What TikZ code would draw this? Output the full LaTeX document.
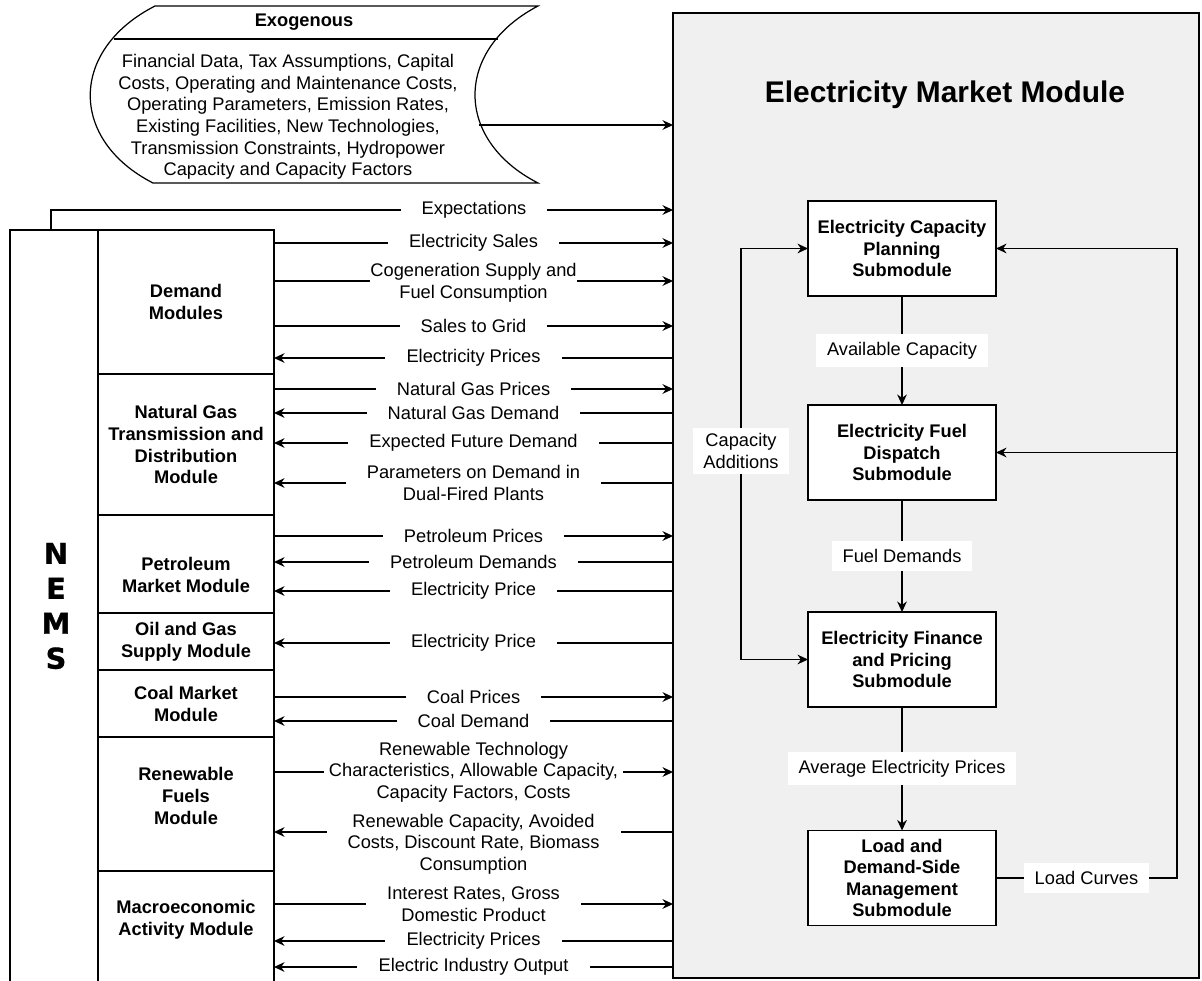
\documentclass[tikz,border=0pt]{standalone}
\usepackage{fontspec}
\setmainfont{Liberation Sans}
\newfontfamily\nemsfont[BoldFeatures={FakeBold=1.2}]{DejaVu Sans}
\usetikzlibrary{arrows.meta}
\definecolor{emmgray}{HTML}{F0F0F0}

\begin{document}
\begin{tikzpicture}[x=0.02cm, y=-0.02cm,
        >={Stealth[length=6pt, width=5.5pt]},
        txt/.style={font=\fontsize{10.4}{12.3}\selectfont, align=center},
        flow/.style={line width=0.7pt},
        lbl/.style={txt, fill=white, inner xsep=12pt, inner ysep=1pt},
        tag/.style={txt, fill=white, inner xsep=6pt, inner ysep=4.5pt},
        modlbl/.style={align=center, inner sep=0pt, font=\bfseries\fontsize{10.4}{12.5}\selectfont},
        mod/.style={draw, line width=0.7pt, fill=white, minimum width=3.52cm, inner sep=0pt, outer sep=0pt, modlbl},
        sub/.style={draw, line width=0.7pt, fill=white, minimum width=3.76cm, minimum height=1.9cm, inner sep=0pt, outer sep=0pt, align=center, font=\bfseries\fontsize{10.4}{12.3}\selectfont}]

            \useasboundingbox (0,0) rectangle (1202,980);
            \clip (0,0) rectangle (1202,980);

            % Exogenous inputs
            \draw[flow] (155,6) -- (538,6) .. controls (454,50) and (454,140) .. (538,183) -- (153,183) .. controls (69,140) and (69,50) .. (155,6) -- cycle;
            \draw[flow] (114,39) -- (498,39);
            \node[txt, font=\bfseries\fontsize{10.4}{12.3}\selectfont] (exotitle) at (304,22) {Exogenous};
            \node[txt] (exo) at (288,117) {Financial Data, Tax Assumptions, Capital\\Costs, Operating and Maintenance Costs,\\Operating Parameters, Emission Rates,\\Existing Facilities, New Technologies,\\Transmission Constraints, Hydropower\\Capacity and Capacity Factors};
            \coordinate (exo-out) at (479,125);

            % Electricity Market Module
            \node[draw, line width=0.7pt, fill=emmgray, minimum width=10.52cm, minimum height=19.3cm, inner sep=0pt, outer sep=0pt] (emm) at (936,495.5) {};
            \node[font=\bfseries\fontsize{17}{20}\selectfont] (emmtitle) at (945,95) {Electricity Market Module};

            \node[sub] (ecp) at (902,248.5) {Electricity Capacity\\Planning\\Submodule};
            \node[sub] (efd) at (902,452.5) {Electricity Fuel\\Dispatch\\Submodule};
            \node[sub] (efp) at (902,659.5) {Electricity Finance\\and Pricing\\Submodule};
            \node[sub] (ldsm) at (902,878) {Load and\\Demand-Side\\Management\\Submodule};
            \node[tag, inner ysep=3pt] (capadd) at (741,451) {Capacity\\Additions};
            \coordinate (rbus) at (1177,0);

            % NEMS modules
            \node[draw, line width=0.7pt, minimum width=5.28cm, minimum height=15.4cm, inner sep=0pt, outer sep=0pt] (nems) at (142,615) {};
            \node[font=\nemsfont\bfseries\fontsize{16.3}{19.9}\selectfont, align=center] (nemsname) at (56,606) {N\\E\\M\\S};

            \node[mod, minimum height=2.88cm] (dem) at (186,302) {Demand\\Modules};
            \node[mod, minimum height=2.82cm] (ngtdm) at (186,444.5) {Natural Gas\\Transmission and\\Distribution\\Module};
            \node[mod, minimum height=1.96cm, label={[modlbl, yshift=-0.22cm]center:{Petroleum\\Market Module}}] (pmm) at (186,564) {};
            \node[mod, minimum height=1.14cm] (ogsm) at (186,641.5) {Oil and Gas\\Supply Module};
            \node[mod, minimum height=1.34cm] (cmm) at (186,703.5) {Coal Market\\Module};
            \node[mod, minimum height=2.68cm, label={[modlbl, yshift=0.16cm]center:{Renewable\\Fuels\\Module}}] (rfm) at (186,804) {};
            \node[mod, minimum height=2.58cm, label={[modlbl, yshift=0.31cm]center:{Macroeconomic\\Activity Module}}] (mam) at (186,935.5) {};

            % Arrows into the module
            \draw[flow, ->] (exo-out) -- (exo-out -| emm.west);
            \draw[flow, ->] (nems.north -| 51,0) |- node[lbl, pos=0.84] {Expectations} (emm.west |- 0,210);

            \draw[flow, ->] (dem.east |- 0,243) -- node[lbl] {Electricity Sales} (emm.west |- 0,243);
            \draw[flow, ->] (dem.east |- 0,281) -- node[lbl, inner xsep=0pt, yshift=-0.04cm] {Cogeneration Supply and\\Fuel Consumption} (emm.west |- 0,281);
            \draw[flow, ->] (dem.east |- 0,326) -- node[lbl] {Sales to Grid} (emm.west |- 0,326);
            \draw[flow, <-] (dem.east |- 0,358) -- node[lbl] {Electricity Prices} (emm.west |- 0,358);

            \draw[flow, ->] (ngtdm.east |- 0,389) -- node[lbl] {Natural Gas Prices} (emm.west |- 0,389);
            \draw[flow, <-] (ngtdm.east |- 0,413) -- node[lbl] {Natural Gas Demand} (emm.west |- 0,413);
            \draw[flow, <-] (ngtdm.east |- 0,443) -- node[lbl] {Expected Future Demand} (emm.west |- 0,443);
            \draw[flow, <-] (ngtdm.east |- 0,483) -- node[lbl] {Parameters on Demand in\\Dual-Fired Plants} (emm.west |- 0,483);

            \draw[flow, ->] (pmm.east |- 0,536) -- node[lbl] {Petroleum Prices} (emm.west |- 0,536);
            \draw[flow, <-] (pmm.east |- 0,562) -- node[lbl] {Petroleum Demands} (emm.west |- 0,562);
            \draw[flow, <-] (pmm.east |- 0,591) -- node[lbl] {Electricity Price} (emm.west |- 0,591);

            \draw[flow, <-] (ogsm.east |- 0,643) -- node[lbl] {Electricity Price} (emm.west |- 0,643);

            \draw[flow, ->] (cmm.east |- 0,697) -- node[lbl] {Coal Prices} (emm.west |- 0,697);
            \draw[flow, <-] (cmm.east |- 0,721) -- node[lbl] {Coal Demand} (emm.west |- 0,721);

            \draw[flow, ->] (rfm.east |- 0,772) -- node[lbl, inner xsep=3pt] {Renewable Technology\\Characteristics, Allowable Capacity,\\Capacity Factors, Costs} (emm.west |- 0,772);
            \draw[flow, <-] (rfm.east |- 0,832) -- node[lbl, yshift=-0.24cm] {Renewable Capacity, Avoided\\Costs, Discount Rate, Biomass\\Consumption} (emm.west |- 0,832);

            \draw[flow, ->] (mam.east |- 0,904) -- node[lbl] {Interest Rates, Gross\\Domestic Product} (emm.west |- 0,904);
            \draw[flow, <-] (mam.east |- 0,941) -- node[lbl] {Electricity Prices} (emm.west |- 0,941);
            \draw[flow, <-] (mam.east |- 0,967) -- node[lbl] {Electric Industry Output} (emm.west |- 0,967);

            % Arrows between submodules
            \draw[flow, ->] (ecp) -- node[tag] {Available Capacity} (efd);
            \draw[flow, ->] (efd) -- node[tag] {Fuel Demands} (efp);
            \draw[flow, ->] (efp) -- node[tag] {Average Electricity Prices} (ldsm);
            \draw[flow, ->] (capadd) |- (ecp.west);
            \draw[flow, ->] (capadd) |- (efp.west);
            \draw[flow, ->] (ldsm.east) -- node[tag] {Load Curves} (ldsm.east -| rbus) |- (ecp.east);
            \draw[flow, ->] (efd.east -| rbus) -- (efd.east);

\end{tikzpicture}
\end{document}
